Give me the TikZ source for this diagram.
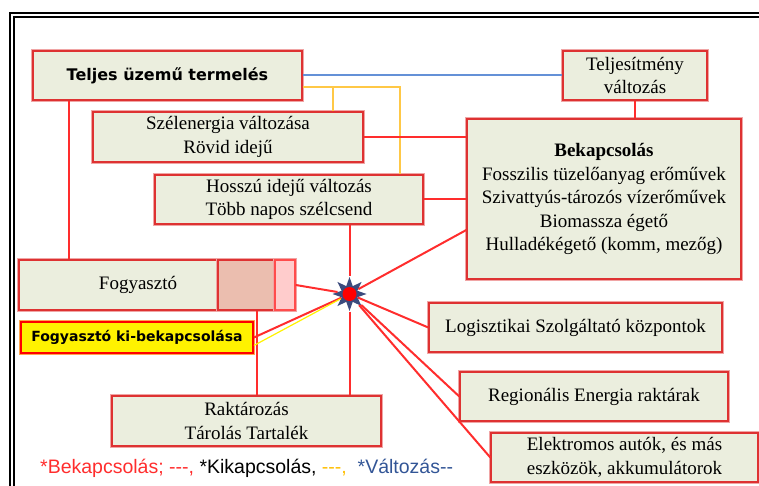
\documentclass[tikz,border=0pt]{standalone}
\usepackage{fontspec}
\setmainfont{Liberation Serif}
\newfontfamily\headfont{DejaVu Sans}
\newfontfamily\legendfont{Liberation Sans}
\usepackage{tikz}
\usetikzlibrary{calc}
\usetikzlibrary{shapes.geometric}

\definecolor{boxfill}{RGB}{235,238,222}
\definecolor{boxred}{RGB}{222,50,50}
\definecolor{halo}{RGB}{240,165,165}
\definecolor{linered}{RGB}{255,45,45}
\definecolor{lineblue}{RGB}{100,145,215}
\definecolor{lineyellow}{RGB}{255,200,70}
\definecolor{hubblue}{RGB}{60,75,125}
\definecolor{loadfill}{RGB}{235,190,175}
\definecolor{plusfill}{RGB}{255,204,204}
\definecolor{legblue}{RGB}{50,85,150}
\definecolor{legyellow}{RGB}{255,190,0}

\begin{document}
\begin{tikzpicture}[x=1pt, y=-1pt,
        box_style/.style={draw=boxred, line width=1.4pt, fill=boxfill, align=center, inner sep=0pt,
            preaction={draw=halo, line width=3.4pt}, font=\fontsize{19}{23.5}\selectfont},
        head_style/.style={box_style, font=\headfont\bfseries\fontsize{16}{19}\selectfont},
        switch_style/.style={draw=red, line width=1.8pt, fill=yellow, inner sep=0pt,
            preaction={draw=orange!70, line width=3.4pt}, font=\headfont\bfseries\fontsize{14}{16}\selectfont},
        red_edge/.style={draw=linered, line width=2pt},
        blue_edge/.style={draw=lineblue, line width=2pt},
        yellow_edge/.style={draw=lineyellow, line width=2pt},
        frame_style/.style={draw=black, line width=1.8pt}]

        \useasboundingbox (0,0) rectangle (759,486);

        \draw [frame_style] (10,486) -- (10,13) -- (759,13);
        \draw [frame_style] (14,486) -- (14,17) -- (759,17);

        \node [head_style, minimum width=269, minimum height=49] (teljes) at (167.5,75.5) {Teljes üzemű termelés};

        \node [box_style, minimum width=144, minimum height=49] (teljesit) at (635,75.5) {Teljesítmény\\változás};

        \node [box_style, minimum width=270, minimum height=50] (szel) at (228,137) {Szélenergia változása\\Rövid idejű};

        \node [box_style, minimum width=274, minimum height=160] (bekap) at (604,199) {\textbf{Bekapcsolás}\\Fosszilis tüzelőanyag erőművek\\Szivattyús-tározós vízerőművek\\Biomassza égető\\Hulladékégető (komm, mezőg)};

        \node [box_style, minimum width=268, minimum height=49] (hosszu) at (289,199.5) {Hosszú idejű változás\\Több napos szélcsend};

        \node [box_style, minimum width=238, minimum height=50] (fogy) at (138,285) {Fogyasztó};

        \node [box_style, fill=loadfill, minimum width=57, minimum height=50] (fogyload) at (246.5,285) {};

        \node [box_style, fill=plusfill, draw=red!70, minimum width=20, minimum height=50] (fogyplus) at (285,285) {};

        \node [switch_style, minimum width=232, minimum height=31] (fogyki) at (137,337.5) {Fogyasztó ki-bekapcsolása};

        \node [box_style, minimum width=293, minimum height=49] (logiszt) at (575.5,327.5) {Logisztikai Szolgáltató központok};

        \node [box_style, minimum width=268, minimum height=49] (region) at (594,396.5) {Regionális Energia raktárak};

        \node [box_style, minimum width=267, minimum height=49] (elektro) at (624.5,457.5) {Elektromos autók, és más\\eszközök, akkumulátorok};

        \node [box_style, minimum width=269, minimum height=50] (raktar) at (246.5,421) {Raktározás\\Tárolás Tartalék};

        \node [star, star points=8, star point ratio=2, fill=hubblue, minimum size=34, inner sep=0pt] (hub) at (349.5,294) {};
        \node [circle, fill=red, minimum size=14, inner sep=0pt] (hubcore) at (hub.center) {};

        \node [anchor=west, inner sep=0pt, font=\legendfont\fontsize{19.5}{22}\selectfont] (legend) at (40,468)
            {\textcolor{linered}{*Bekapcsolás; {-}{-}{-},} *Kikapcsolás, \textcolor{legyellow}{{-}{-}{-},}\ \ \textcolor{legblue}{*Változás{-}{-}}};

        \draw [blue_edge] (teljes.east) -- (teljesit.west);

        \coordinate (yl) at ([yshift=-12pt]teljes.east);
        \coordinate (ybranch) at ([xshift=-31pt]szel.north east);
        \draw [yellow_edge] (yl) -| ([xshift=-24pt]hosszu.north east);
        \draw [yellow_edge] (ybranch) -- (ybranch |- yl);

        \draw [red_edge] (szel.east) -- (szel.east -| bekap.west);
        \draw [red_edge] (hosszu.east) -- (hosszu.east -| bekap.west);
        \draw [red_edge] (teljesit.south) -- (teljesit.south |- bekap.north);

        \coordinate (tdrop) at ([xshift=37pt]teljes.south west);
        \draw [red_edge] (tdrop) -- (tdrop |- fogy.north);

        \coordinate (fdrop) at ([xshift=40pt]fogyload.south west);
        \draw [red_edge] (fdrop) -- (fdrop |- raktar.north);

        \draw [red_edge] (hub.north) -- (hub.north |- hosszu.south);
        \draw [red_edge] (hub.south) -- (hub.south |- raktar.north);
        \draw [red_edge] (hub) -- ([yshift=-31pt]bekap.west);
        \draw [red_edge] (hub) -- (fogyplus.east);
        \draw [red_edge] (hub) -- (fogyki.east);
        \draw [yellow_edge, line width=1.2pt, draw=yellow] (hub) -- ([yshift=-8pt]fogyki.east);
        \draw [red_edge] (hub) -- (logiszt.west);
        \draw [red_edge] (hub) -- (region.west);
        \draw [red_edge] (hub) -- (elektro.west);

        \end{tikzpicture}
\end{document}
